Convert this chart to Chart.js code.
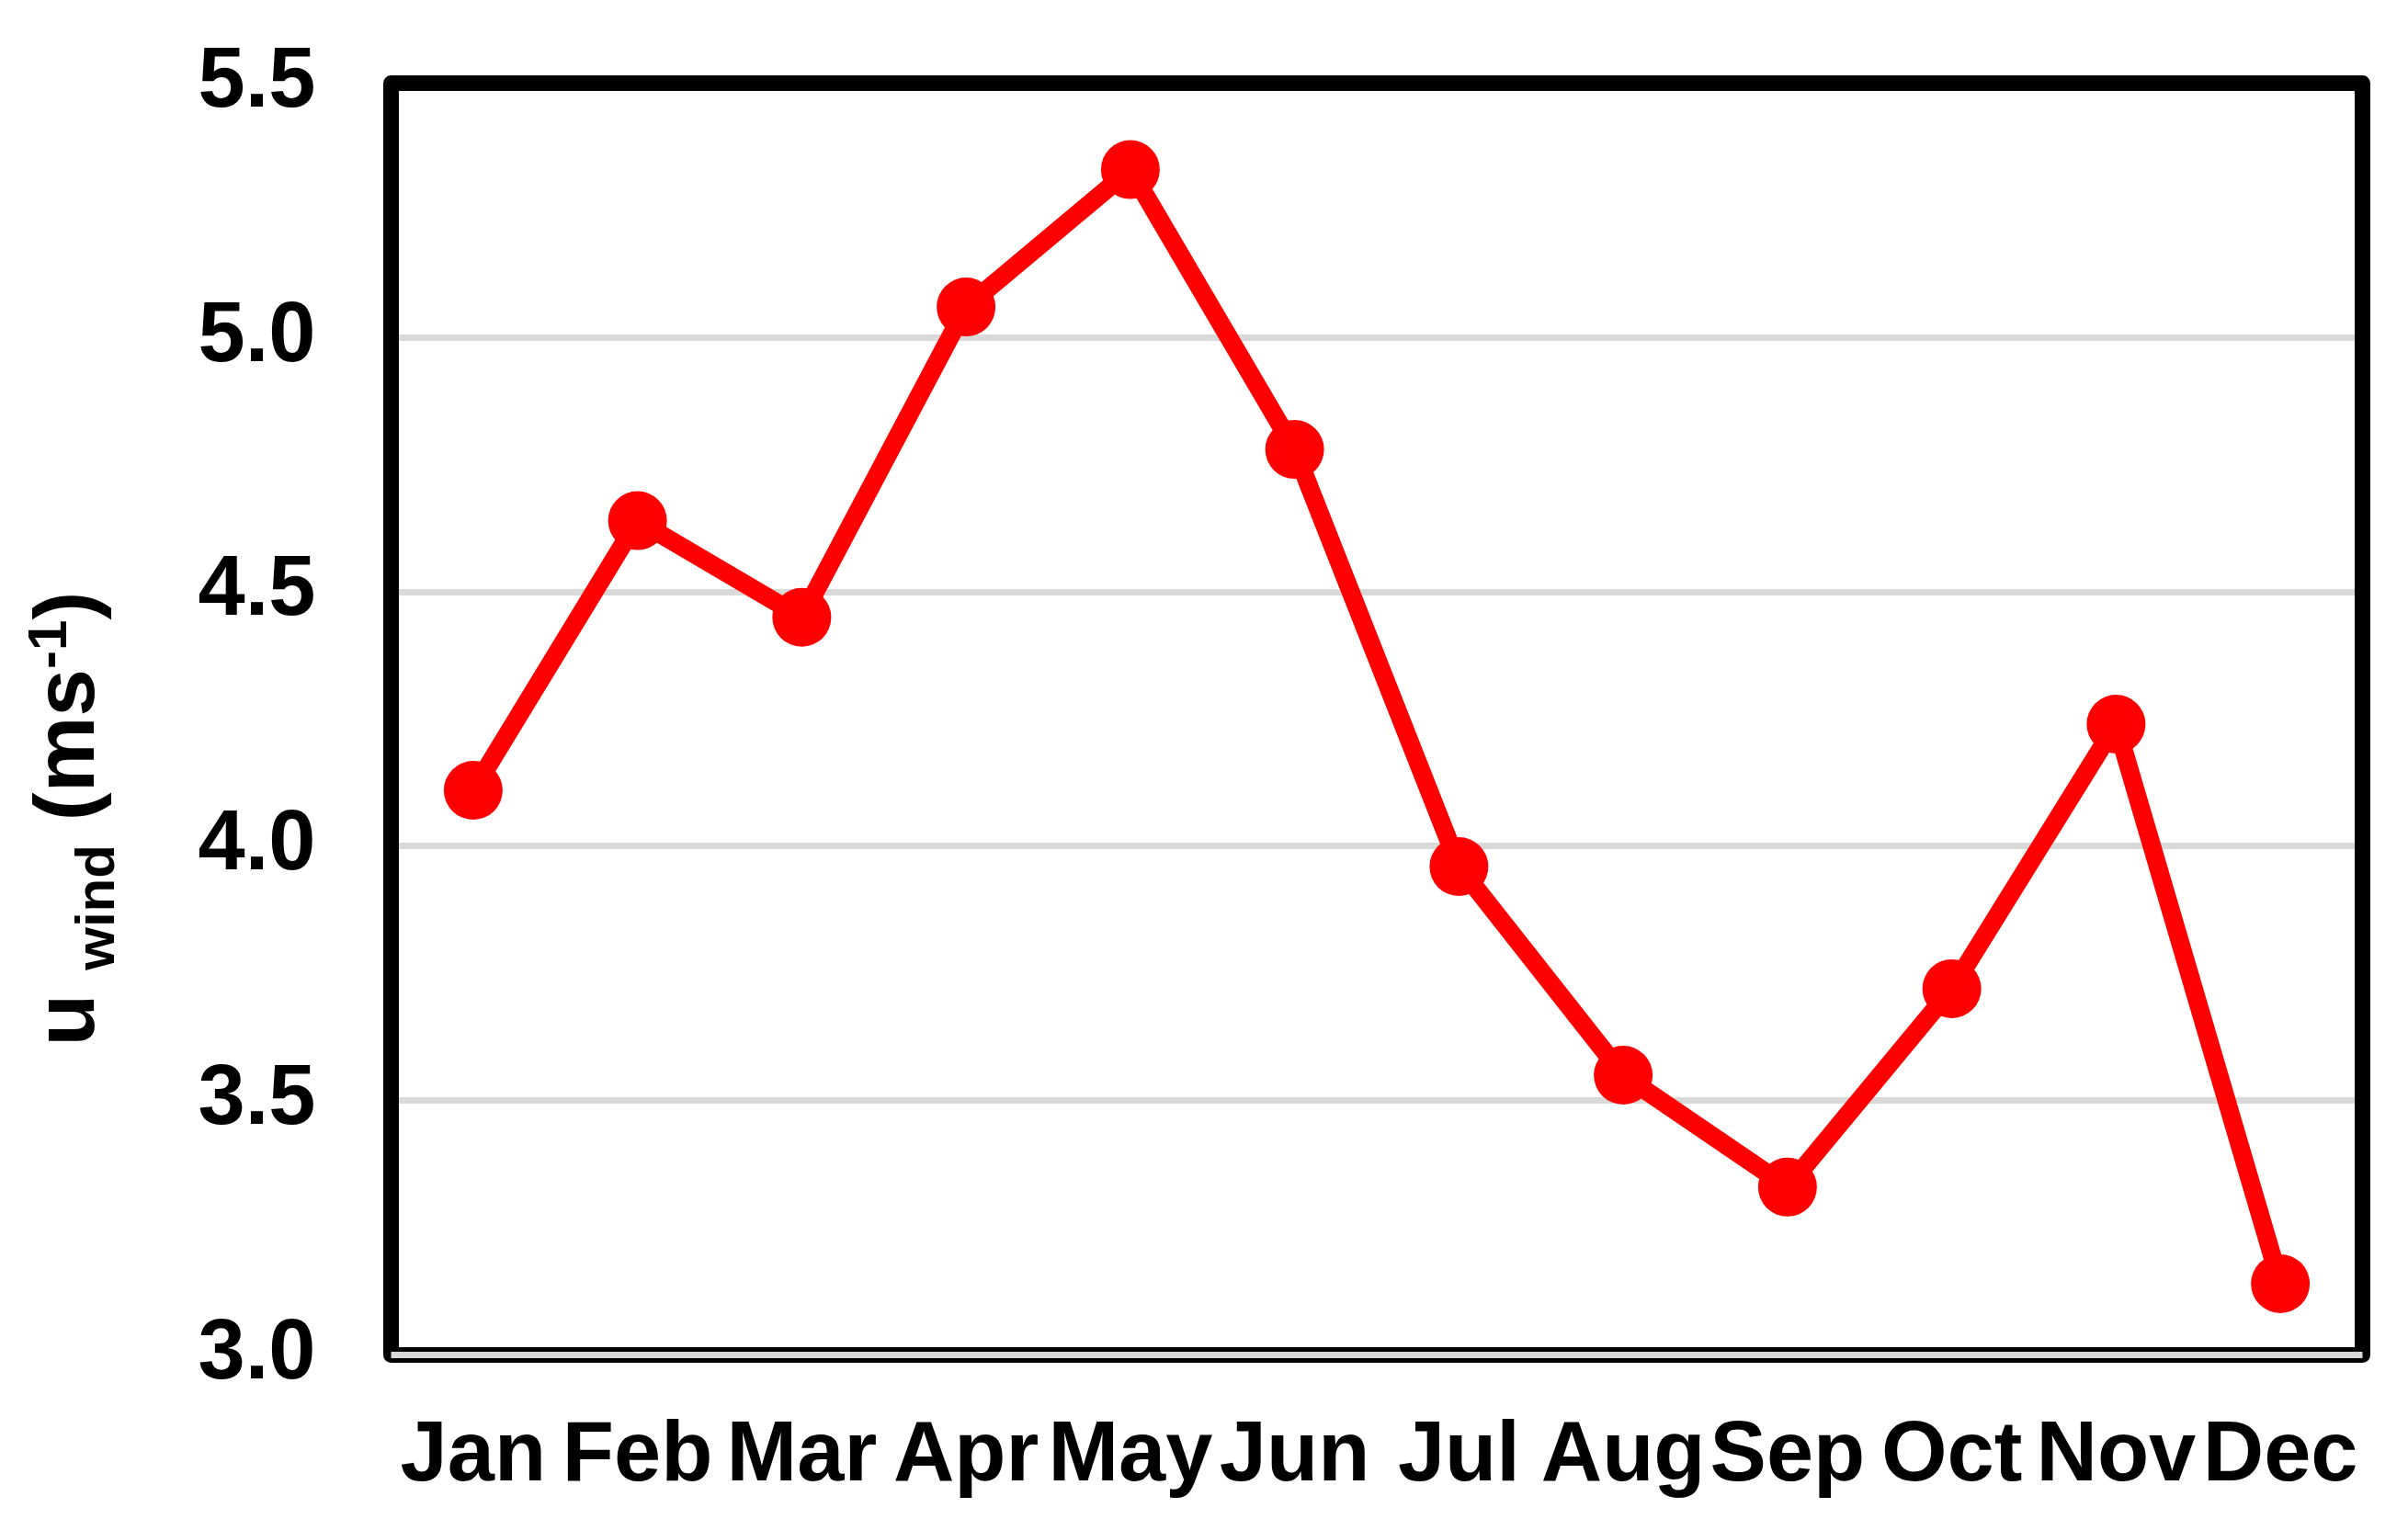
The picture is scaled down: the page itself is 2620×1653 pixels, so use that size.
<!DOCTYPE html>
<html>
<head>
<meta charset="utf-8">
<script src="https://cdn.jsdelivr.net/npm/chart.js@4/dist/chart.umd.min.js"></script>
<style>
  html, body { margin: 0; padding: 0; background: #ffffff; }
  #wrap { position: relative; width: 2620px; height: 1653px; }
</style>
</head>
<body>
<div id="wrap"><canvas id="c" width="2620" height="1653"></canvas></div>
<script>
// ---- data ----
const months = ['Jan','Feb','Mar','Apr','May','Jun','Jul','Aug','Sep','Oct','Nov','Dec'];
const uWind = [4.11, 4.64, 4.45, 5.06, 5.33, 4.78, 3.96, 3.55, 3.33, 3.72, 4.24, 3.14];
const yMin = 3.0;
const yMax = 5.5;
const yStep = 0.5;
const titleMain1 = 'u ';
const titleSub = 'wind';
const titleMain2 = ' (ms';
const titleSup = '-1';
const titleMain3 = ')';

const FONT = '"Liberation Sans", Arial, sans-serif';

const framePlugin = {
  id: 'frame',
  beforeDatasetsDraw(chart) {
    const { ctx, chartArea: a, scales } = chart;
    ctx.save();
    ctx.strokeStyle = '#000000';
    ctx.lineWidth = 17;
    ctx.lineJoin = 'round';
    ctx.strokeRect(a.left, a.top, a.right - a.left, a.bottom - a.top);
    // gray gridline at the axis minimum drawn over the bottom border
    const yb = scales.y.getPixelForValue(yMin);
    ctx.strokeStyle = '#d9d9d9';
    ctx.lineWidth = 7;
    ctx.beginPath();
    ctx.moveTo(a.left, yb);
    ctx.lineTo(a.right, yb);
    ctx.stroke();
    ctx.restore();
  }
};

const titlePlugin = {
  id: 'ytitle',
  afterDraw(chart) {
    const { ctx } = chart;
    const big = 'bold 93px ' + FONT;
    const small = 'bold 60px ' + FONT;
    const parts = [
      { t: titleMain1, f: big, dy: 0 },
      { t: titleSub, f: small, dy: 22 },
      { t: titleMain2, f: big, dy: 0 },
      { t: titleSup, f: small, dy: -30 },
      { t: titleMain3, f: big, dy: 0 }
    ];
    ctx.save();
    let total = 0;
    parts.forEach(p => { ctx.font = p.f; p.w = ctx.measureText(p.t).width; total += p.w; });
    const cx = 102, cy = 891;
    ctx.translate(cx, cy);
    ctx.rotate(-Math.PI / 2);
    ctx.fillStyle = '#000000';
    ctx.textBaseline = 'alphabetic';
    ctx.textAlign = 'left';
    let x = -total / 2;
    parts.forEach(p => {
      ctx.font = p.f;
      ctx.fillText(p.t, x, p.dy);
      x += p.w;
    });
    ctx.restore();
  }
};

new Chart(document.getElementById('c'), {
  type: 'line',
  data: {
    labels: months,
    datasets: [{
      data: uWind,
      borderColor: '#ff0000',
      backgroundColor: '#ff0000',
      borderWidth: 20,
      pointRadius: 32,
      pointHoverRadius: 32,
      pointBackgroundColor: '#ff0000',
      pointBorderColor: '#ff0000',
      pointBorderWidth: 0,
      tension: 0,
      fill: false
    }]
  },
  options: {
    responsive: false,
    animation: false,
    devicePixelRatio: 1,
    layout: { padding: { top: 90.5, right: 49.5, left: 0, bottom: 0 } },
    plugins: { legend: { display: false }, tooltip: { enabled: false }, title: { display: false } },
    scales: {
      x: {
        type: 'category',
        offset: true,
        grid: { display: false, drawTicks: false },
        border: { display: false },
        ticks: {
          color: '#000000',
          font: { family: FONT, size: 92, weight: 'bold' },
          padding: 56,
          maxRotation: 0,
          minRotation: 0,
          autoSkip: false
        },
        afterFit(scale) {
          scale.height = 178.5;
          scale.paddingLeft = 0; scale.paddingRight = 0;
        }
      },
      y: {
        min: yMin,
        max: yMax,
        grid: { color: '#d9d9d9', lineWidth: 7, drawTicks: false },
        border: { display: false },
        ticks: {
          stepSize: yStep,
          color: '#000000',
          font: { family: FONT, size: 92, weight: 'bold' },
          padding: 82,
          callback: v => Number(v).toFixed(1)
        },
        afterFit(scale) {
          scale.width = 425.5;
          scale.paddingTop = 0; scale.paddingBottom = 0;
        }
      }
    }
  },
  plugins: [framePlugin, titlePlugin]
});
</script>
</body>
</html>
